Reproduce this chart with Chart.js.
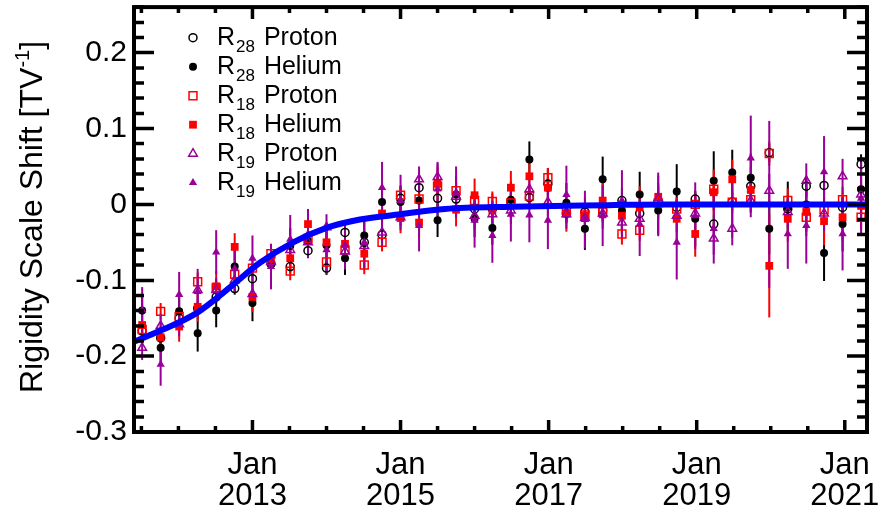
<!DOCTYPE html>
<html>
<head>
<meta charset="utf-8">
<script src="https://cdn.jsdelivr.net/npm/chart.js@4.4.1/dist/chart.umd.min.js"></script>
<style>
  html, body { margin: 0; padding: 0; background: #fff; }
  #wrap { width: 880px; height: 513px; }
</style>
</head>
<body>
<div id="wrap"><canvas id="chart" width="880" height="513"></canvas></div>
<script>
// time of each point (decimal years)
const dates = [2011.51, 2011.76, 2012.01, 2012.26, 2012.51, 2012.76, 2013.00, 2013.25, 2013.51, 2013.75,
               2014.00, 2014.25, 2014.51, 2014.75, 2015.00, 2015.25, 2015.50, 2015.75, 2016.00, 2016.24,
               2016.49, 2016.74, 2016.99, 2017.24, 2017.49, 2017.73, 2017.99, 2018.23, 2018.48, 2018.73,
               2018.98, 2019.23, 2019.48, 2019.73, 2019.98, 2020.23, 2020.48, 2020.72, 2020.97, 2021.22];

const r28Proton = [-0.167, -0.176, -0.150, -0.137, -0.122, -0.111, -0.098, -0.078, -0.082, -0.061,
                   -0.084, -0.037, -0.050, -0.040, 0.008, 0.022, 0.008, 0.007, -0.006, -0.006,
                   0.004, 0.009, 0.027, -0.012, -0.010, -0.008, 0.005, -0.012, 0.002, -0.004,
                   0.007, -0.026, 0.003, 0.024, 0.068, -0.006, 0.024, 0.025, -0.004, 0.053];
const r28ProtonErr = [0.008, 0.008, 0.008, 0.009, 0.008, 0.008, 0.009, 0.008, 0.008, 0.009,
                      0.009, 0.010, 0.009, 0.009, 0.009, 0.009, 0.010, 0.009, 0.009, 0.010,
                      0.010, 0.010, 0.010, 0.010, 0.010, 0.011, 0.010, 0.011, 0.011, 0.011,
                      0.011, 0.012, 0.012, 0.012, 0.012, 0.012, 0.013, 0.013, 0.013, 0.013];

const r28Helium = [-0.140, -0.189, -0.141, -0.170, -0.140, -0.082, -0.130, -0.079, -0.055, -0.048,
                   -0.054, -0.071, -0.041, 0.003, 0.003, 0.005, -0.021, 0.013, -0.019, -0.031,
                   0.006, 0.059, 0.022, 0.002, -0.032, 0.033, -0.008, 0.013, -0.008, 0.017,
                   -0.019, 0.031, 0.042, 0.035, -0.032, -0.004, 0.000, -0.064, -0.026, 0.020];
const r28HeliumErr = [0.022, 0.022, 0.024, 0.024, 0.022, 0.022, 0.024, 0.022, 0.024, 0.022,
                      0.024, 0.022, 0.024, 0.024, 0.022, 0.024, 0.022, 0.024, 0.024, 0.022,
                      0.024, 0.024, 0.026, 0.026, 0.028, 0.030, 0.030, 0.030, 0.032, 0.036,
                      0.036, 0.039, 0.030, 0.032, 0.034, 0.034, 0.036, 0.037, 0.036, 0.036];

const r18Proton = [-0.165, -0.141, -0.148, -0.102, -0.110, -0.092, -0.084, -0.065, -0.088, -0.045,
                   -0.076, -0.060, -0.080, -0.050, 0.012, 0.007, 0.024, 0.018, 0.005, 0.004,
                   0.002, 0.011, 0.035, -0.008, -0.014, -0.010, -0.039, -0.034, 0.002, -0.006,
                   0.000, 0.020, 0.003, 0.006, 0.067, 0.005, -0.017, -0.007, 0.006, -0.017];
const r18ProtonErr = [0.011, 0.011, 0.011, 0.012, 0.011, 0.011, 0.012, 0.011, 0.012, 0.011,
                      0.012, 0.012, 0.012, 0.012, 0.012, 0.012, 0.012, 0.012, 0.012, 0.013,
                      0.013, 0.013, 0.013, 0.013, 0.013, 0.014, 0.014, 0.014, 0.014, 0.015,
                      0.015, 0.015, 0.015, 0.016, 0.016, 0.016, 0.016, 0.017, 0.017, 0.017];

const r18Helium = [-0.159, -0.175, -0.161, -0.135, -0.108, -0.056, -0.122, -0.072, -0.071, -0.026,
                   -0.050, -0.052, -0.065, -0.012, -0.018, -0.024, 0.027, -0.007, 0.012, -0.008,
                   0.022, 0.037, 0.022, -0.012, -0.015, 0.005, -0.015, -0.004, 0.010, -0.019,
                   -0.039, 0.016, 0.033, 0.019, -0.081, -0.019, -0.010, -0.022, -0.017, -0.002];
const r18HeliumErr = [0.020, 0.020, 0.020, 0.020, 0.020, 0.018, 0.020, 0.020, 0.020, 0.020,
                      0.020, 0.020, 0.020, 0.022, 0.020, 0.020, 0.022, 0.022, 0.022, 0.022,
                      0.022, 0.024, 0.024, 0.024, 0.024, 0.026, 0.026, 0.028, 0.028, 0.028,
                      0.030, 0.030, 0.026, 0.030, 0.068, 0.030, 0.032, 0.032, 0.032, 0.032];

const r19Proton = [-0.189, -0.160, -0.158, -0.113, -0.113, -0.100, -0.118, -0.076, -0.060, -0.050,
                   -0.030, -0.062, -0.055, -0.037, -0.017, 0.033, 0.036, 0.010, -0.015, -0.013,
                   -0.008, 0.020, 0.003, -0.013, -0.018, -0.012, -0.024, -0.019, 0.008, -0.015,
                   -0.012, -0.045, -0.032, 0.005, 0.018, -0.010, 0.031, -0.012, 0.037, 0.013];
const r19ProtonErr = [0.016, 0.016, 0.016, 0.017, 0.016, 0.016, 0.017, 0.016, 0.017, 0.017,
                      0.017, 0.017, 0.017, 0.018, 0.017, 0.017, 0.018, 0.018, 0.018, 0.018,
                      0.018, 0.019, 0.019, 0.019, 0.019, 0.020, 0.020, 0.020, 0.020, 0.021,
                      0.021, 0.021, 0.022, 0.022, 0.022, 0.022, 0.023, 0.023, 0.023, 0.023];

const r19Helium = [-0.139, -0.211, -0.119, -0.115, -0.063, -0.085, -0.071, -0.082, -0.046, -0.039,
                   -0.060, -0.054, -0.050, 0.022, 0.005, -0.028, 0.020, 0.016, -0.021, -0.041,
                   -0.013, -0.014, -0.021, 0.013, -0.020, -0.015, 0.005, -0.026, 0.000, -0.050,
                   -0.015, -0.032, 0.002, 0.061, 0.000, -0.039, -0.028, 0.043, -0.039, 0.008];
const r19HeliumErr = [0.030, 0.028, 0.030, 0.030, 0.029, 0.030, 0.030, 0.030, 0.032, 0.032,
                      0.032, 0.032, 0.034, 0.034, 0.034, 0.034, 0.036, 0.034, 0.036, 0.036,
                      0.036, 0.036, 0.038, 0.038, 0.038, 0.040, 0.040, 0.042, 0.042, 0.049,
                      0.044, 0.046, 0.046, 0.056, 0.110, 0.046, 0.050, 0.047, 0.048, 0.048];

// fitted curve
const fitX = [2011.40, 2011.79, 2012.25, 2012.70, 2013.10, 2013.55, 2014.00, 2014.45,
              2015.00, 2015.60, 2016.50, 2017.80, 2018.60, 2021.30];
const fitY = [-0.181, -0.165, -0.143, -0.109, -0.077, -0.050, -0.031, -0.020,
              -0.013, -0.006, -0.003, -0.001, 0.000, 0.000];

const xTickYears = [2013, 2015, 2017, 2019, 2021];
const yTickValues = [-0.3, -0.2, -0.1, 0, 0.1, 0.2];
const yTickLabels = ['-0.3', '-0.2', '-0.1', '0', '0.1', '0.2'];

const FONT = '"Liberation Sans", Arial, Helvetica, sans-serif';
const PURPLE = '#990099';

function pts(vals) {
    return dates.map((d, i) => ({ x: d, y: vals[i] }));
}

const datasets = [
    { label: 'R28 Proton', sub: '28', name: 'Proton', data: pts(r28Proton), errors: r28ProtonErr,
      pointStyle: 'circle', pointRadius: 4, borderColor: '#000', backgroundColor: 'rgba(0,0,0,0)', borderWidth: 1.5, order: 6 },
    { label: 'R28 Helium', sub: '28', name: 'Helium', data: pts(r28Helium), errors: r28HeliumErr,
      pointStyle: 'circle', pointRadius: 4, borderColor: '#000', backgroundColor: '#000', borderWidth: 0, order: 5 },
    { label: 'R18 Proton', sub: '18', name: 'Proton', data: pts(r18Proton), errors: r18ProtonErr,
      pointStyle: 'rect', pointRadius: 5.6, borderColor: '#ff0000', backgroundColor: 'rgba(0,0,0,0)', borderWidth: 1.5, order: 4 },
    { label: 'R18 Helium', sub: '18', name: 'Helium', data: pts(r18Helium), errors: r18HeliumErr,
      pointStyle: 'rect', pointRadius: 5.5, borderColor: '#ff0000', backgroundColor: '#ff0000', borderWidth: 0, order: 3 },
    { label: 'R19 Proton', sub: '19', name: 'Proton', data: pts(r19Proton), errors: r19ProtonErr,
      pointStyle: 'triangle', pointRadius: 5, borderColor: PURPLE, backgroundColor: 'rgba(0,0,0,0)', borderWidth: 1.5, order: 2 },
    { label: 'R19 Helium', sub: '19', name: 'Helium', data: pts(r19Helium), errors: r19HeliumErr,
      pointStyle: 'triangle', pointRadius: 4.8, borderColor: PURPLE, backgroundColor: PURPLE, borderWidth: 0, order: 1 },
    { label: 'fit', type: 'line', data: fitX.map((x, i) => ({ x: x, y: fitY[i] })),
      borderColor: '#0000ff', borderWidth: 6, pointRadius: 0, cubicInterpolationMode: 'monotone',
      fill: false, order: 0 }
];

// vertical error bars
const errorBars = {
    id: 'errorBars',
    beforeDatasetsDraw(chart) {
        const { ctx, chartArea, scales: { x, y } } = chart;
        ctx.save();
        ctx.beginPath();
        ctx.rect(chartArea.left, chartArea.top, chartArea.right - chartArea.left, chartArea.bottom - chartArea.top);
        ctx.clip();
        chart.data.datasets.forEach(ds => {
            if (!ds.errors) return;
            ctx.strokeStyle = ds.borderColor;
            ctx.lineWidth = 2;
            ds.data.forEach((p, j) => {
                const px = x.getPixelForValue(p.x);
                ctx.beginPath();
                ctx.moveTo(px, y.getPixelForValue(p.y - ds.errors[j]));
                ctx.lineTo(px, y.getPixelForValue(p.y + ds.errors[j]));
                ctx.stroke();
            });
        });
        ctx.restore();
    }
};

// ROOT style frame with inward ticks on all four sides
const frame = {
    id: 'frame',
    afterDatasetsDraw(chart) {
        const { ctx, chartArea: a, scales: { x, y } } = chart;
        ctx.save();
        ctx.strokeStyle = '#000';
        ctx.lineWidth = 3.5;
        ctx.lineCap = 'butt';
        for (let v = -0.3; v <= 0.261; v += 0.02) {
            const py = Math.round(y.getPixelForValue(v) * 2) / 2;
            const major = Math.abs(v * 10 - Math.round(v * 10)) < 1e-6;
            const len = major ? 20 : 10;
            ctx.beginPath();
            ctx.moveTo(a.left, py); ctx.lineTo(a.left + len, py);
            ctx.moveTo(a.right, py); ctx.lineTo(a.right - len, py);
            ctx.stroke();
        }
        for (let v = 2011.5; v <= 2021.3; v += 0.5) {
            const px = x.getPixelForValue(v);
            const major = xTickYears.includes(v);
            const len = major ? 12 : 6;
            ctx.beginPath();
            ctx.moveTo(px, a.bottom); ctx.lineTo(px, a.bottom - len);
            ctx.moveTo(px, a.top); ctx.lineTo(px, a.top + len);
            ctx.stroke();
        }
        ctx.lineWidth = 4;
        ctx.strokeRect(a.left, a.top, a.right - a.left, a.bottom - a.top);
        ctx.restore();
    }
};

function marker(ctx, ds, cx, cy) {
    const r = ds.pointRadius;
    ctx.beginPath();
    if (ds.pointStyle === 'circle') {
        ctx.arc(cx, cy, r, 0, Math.PI * 2);
    } else if (ds.pointStyle === 'rect') {
        const s = r * Math.SQRT1_2;
        ctx.rect(cx - s, cy - s, 2 * s, 2 * s);
    } else {
        ctx.moveTo(cx, cy - r);
        ctx.lineTo(cx + r * Math.sin(Math.PI * 2 / 3), cy + r / 2);
        ctx.lineTo(cx - r * Math.sin(Math.PI * 2 / 3), cy + r / 2);
        ctx.closePath();
    }
    ctx.fillStyle = ds.backgroundColor;
    ctx.fill();
    if (ds.borderWidth > 0) {
        ctx.lineWidth = ds.borderWidth;
        ctx.strokeStyle = ds.borderColor;
        ctx.stroke();
    }
}

// legend with subscripts, inside the frame
const subLegend = {
    id: 'subLegend',
    afterDraw(chart) {
        const ctx = chart.ctx;
        ctx.save();
        chart.data.datasets.filter(ds => ds.sub).forEach((ds, i) => {
            const cy = 37.7 + i * 29;
            marker(ctx, ds, 193, cy);
            ctx.fillStyle = '#000';
            ctx.textBaseline = 'alphabetic';
            ctx.textAlign = 'left';
            ctx.font = '25px ' + FONT;
            ctx.fillText('R', 217, cy + 7);
            let xx = 217 + ctx.measureText('R').width + 1;
            ctx.font = '17px ' + FONT;
            ctx.fillText(ds.sub, xx, cy + 14);
            xx += ctx.measureText(ds.sub).width + 2;
            ctx.font = '25px ' + FONT;
            ctx.fillText(' ' + ds.name, xx, cy + 7);
        });
        ctx.restore();
    }
};

// rotated y axis title with superscript
const yTitle = {
    id: 'yTitle',
    afterDraw(chart) {
        const ctx = chart.ctx;
        const a = 'Rigidity Scale Shift [TV', sup = '-1', b = ']';
        ctx.save();
        ctx.translate(42, 217);
        ctx.rotate(-Math.PI / 2);
        ctx.fillStyle = '#000';
        ctx.textBaseline = 'alphabetic';
        ctx.textAlign = 'left';
        ctx.font = '32px ' + FONT;
        const wa = ctx.measureText(a).width, wb = ctx.measureText(b).width;
        ctx.font = '20px ' + FONT;
        const ws = ctx.measureText(sup).width;
        let x0 = -(wa + ws + wb) / 2;
        ctx.font = '32px ' + FONT;
        ctx.fillText(a, x0, 0);
        ctx.font = '20px ' + FONT;
        ctx.fillText(sup, x0 + wa, -13);
        ctx.font = '32px ' + FONT;
        ctx.fillText(b, x0 + wa + ws, 0);
        ctx.restore();
    }
};

new Chart(document.getElementById('chart'), {
    type: 'scatter',
    data: { datasets: datasets },
    options: {
        responsive: false,
        animation: false,
        events: [],
        layout: { padding: { top: 3, right: 13, left: 0, bottom: 0 } },
        scales: {
            x: {
                type: 'linear',
                min: 2011.40,
                max: 2021.30,
                afterBuildTicks: s => { s.ticks = xTickYears.map(v => ({ value: v })); },
                afterFit: s => { s.height = 81; s.paddingLeft = 0; s.paddingRight = 0; },
                grid: { display: false, drawTicks: false },
                border: { display: false },
                ticks: {
                    autoSkip: false,
                    maxRotation: 0,
                    padding: 18,
                    color: '#000',
                    font: { family: FONT, size: 31, lineHeight: 1.0 },
                    callback: v => ['Jan', String(v)]
                }
            },
            y: {
                min: -0.3,
                max: 0.26,
                afterBuildTicks: s => { s.ticks = yTickValues.map(v => ({ value: v })); },
                afterFit: s => { s.width = 134; s.paddingTop = 0; s.paddingBottom = 0; },
                grid: { display: false, drawTicks: false },
                border: { display: false },
                ticks: {
                    padding: 7,
                    color: '#000',
                    font: { family: FONT, size: 30 },
                    callback: (v, i) => yTickLabels[i]
                }
            }
        },
        plugins: {
            legend: { display: false },
            tooltip: { enabled: false }
        }
    },
    plugins: [errorBars, frame, subLegend, yTitle]
});
</script>
</body>
</html>
